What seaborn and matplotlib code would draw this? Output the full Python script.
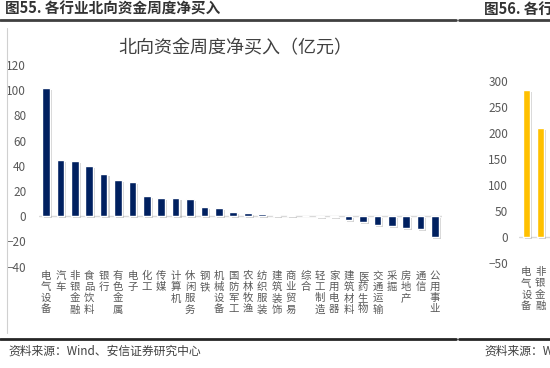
import matplotlib
matplotlib.use("Agg")
import matplotlib.pyplot as plt
import matplotlib.patheffects as pe
from matplotlib.lines import Line2D
import seaborn as sns

# weekly northbound net buy by industry (100m CNY)
industries = ["电气设备", "汽车", "非银金融", "食品饮料", "银行", "有色金属", "电子",
              "化工", "传媒", "计算机", "休闲服务", "钢铁", "机械设备", "国防军工",
              "农林牧渔", "纺织服装", "建筑装饰", "商业贸易", "综合", "轻工制造",
              "家用电器", "建筑材料", "医药生物", "交通运输", "采掘", "房地产",
              "通信", "公用事业"]
net_buy = [102.0, 44.5, 44.0, 40.0, 33.5, 28.5, 27.5, 16.0, 14.5, 14.5, 13.5,
           7.3, 6.5, 3.7, 2.9, 1.5, 1.3, 1.2, 0.3, -0.2, -0.7, -2.6, -4.8,
           -6.8, -7.9, -9.3, -10.3, -16.3]
yticks_left = [-40, -20, 0, 20, 40, 60, 80, 100, 120]

# neighbouring chart (cut off at the right edge)
cum_industries = ["电气设备", "非银金融"]
cum_buy = [282.6, 210.7]
yticks_right = [-50, 0, 50, 100, 150, 200, 250, 300]

sns.set_style("white")
plt.rcParams["font.family"] = ["Noto Sans CJK SC", "DejaVu Sans"]

W, H = 550, 368
fig = plt.figure(figsize=(W / 100, H / 100), dpi=100)


def box(x0, y0, x1, y1):
    return [x0 / W, 1 - y1 / H, (x1 - x0) / W, (y1 - y0) / H]


def hline(x0, x1, y, color, lw):
    fig.add_artist(Line2D([x0 / W, x1 / W], [1 - y / H, 1 - y / H],
                          transform=fig.transFigure, color=color, lw=lw))


def style_axes(ax, pad):
    for s in ax.spines.values():
        s.set_visible(False)
    ax.axhline(0, color="#d9d9d9", lw=1, zorder=0.5)
    ax.tick_params(axis="x", length=0, pad=3)
    ax.tick_params(axis="y", length=0, pad=pad, labelsize=8.5, labelcolor="#595959")
    ax.set_xlabel("")
    ax.set_ylabel("")
    for p in ax.patches:
        p.set_path_effects([pe.SimplePatchShadow(offset=(1.5, -1.5), shadow_rgbFace="#808080", alpha=0.35),
                            pe.Normal()])


# main chart
ax = fig.add_axes(box(38.8, 65, 442.2, 266.7))
sns.barplot(x=industries, y=net_buy, color="#002060", saturation=1, width=0.53, ax=ax)
ax.set_ylim(-40, 120)
ax.set_xlim(-0.5, len(industries) - 0.5)
ax.set_yticks(yticks_left)
ax.set_xticks(range(len(industries)))
ax.set_xticklabels(["\n".join(c) for c in industries], fontsize=7.5, color="#595959",
                   va="top", linespacing=1.15)
style_axes(ax, 9)

# right chart, mostly outside the picture
ax2 = fig.add_axes(box(519.3, 81, 589.3, 263.3))
sns.barplot(x=cum_industries, y=cum_buy, color="#FFC000", saturation=1, width=0.52, ax=ax2)
ax2.set_ylim(-50, 300)
ax2.set_xlim(-0.5, 4.5)
ax2.set_yticks(yticks_right)
ax2.set_xticks(range(len(cum_industries)))
ax2.set_xticklabels(["\n".join(c) for c in cum_industries], fontsize=7.5, color="#595959",
                    va="top", linespacing=1.15)
style_axes(ax2, 8)

# frame and headings
fig.text(5 / W, 1 - 9 / H, "图55. 各行业北向资金周度净买入", fontsize=10.5,
         weight="bold", color="#333333", va="center")
fig.text(484 / W, 1 - 9 / H, "图56. 各行", fontsize=10.5,
         weight="bold", color="#333333", va="center")
hline(0, 456, 20, "#404040", 2)
hline(459, 550, 20, "#404040", 2)
fig.add_artist(Line2D([6.5 / W, 6.5 / W], [1 - 28 / H, 1 - 333 / H],
                      transform=fig.transFigure, color="#d0d0d0", lw=0.8))
fig.text(235 / W, 1 - 48 / H, "北向资金周度净买入（亿元）", fontsize=13,
         color="#404040", ha="center", va="center")
hline(0, 456, 339, "#262626", 2)
hline(459, 550, 339, "#262626", 2)
fig.text(8 / W, 1 - 351 / H, "资料来源：Wind、安信证券研究中心", fontsize=8.5,
         style="italic", color="#404040", va="center")
fig.text(484 / W, 1 - 351 / H, "资料来源：Wind、安信证券研究中心", fontsize=8.5,
         style="italic", color="#404040", va="center")

fig.savefig("out.png", dpi=100)
